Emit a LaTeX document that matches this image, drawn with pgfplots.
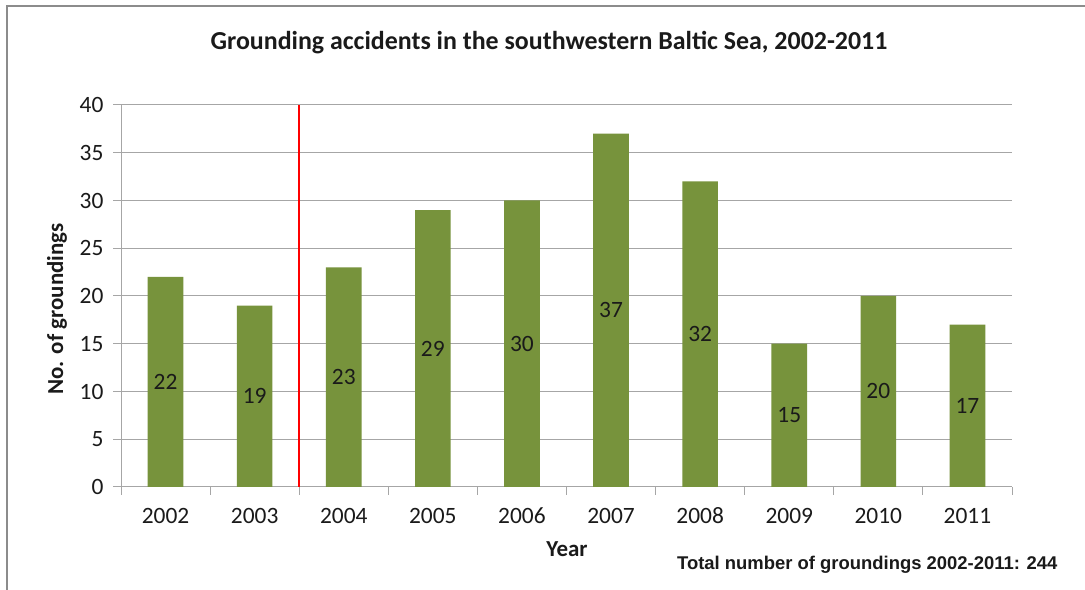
\documentclass[border=0pt]{standalone}
\usepackage{fontspec}
\setmainfont{Carlito}
\newfontfamily\arialfont{Liberation Sans}
\usepackage{pgfplots}
\pgfplotsset{compat=1.18}
\definecolor{bargreen}{HTML}{77933C}
\definecolor{gridgray}{HTML}{A6A6A6}
\definecolor{framegray}{HTML}{8C8C8C}
\definecolor{txt}{HTML}{1A1A1A}
\begin{document}
\begin{tikzpicture}[x=1bp,y=1bp]
\path[use as bounding box, fill=white] (0,0) rectangle (1085,590);
\draw[framegray, line width=2.5bp] (7,0) -- (7,584) -- (1085,584);
\begin{axis}[
  at={(121bp,103bp)}, anchor=south west,
  scale only axis, width=891bp, height=382bp,
  xmin=-0.5, xmax=9.5, ymin=0, ymax=40,
  ytick={0,5,...,40},
  xtick={0,...,9},
  xticklabels={2002,2003,2004,2005,2006,2007,2008,2009,2010,2011},
  minor xtick={-0.5,0.5,...,9.5},
  ymajorgrids,
  grid style={gridgray, line width=1bp},
  axis x line*=bottom, axis y line*=left,
  axis line style={gridgray, line width=1bp, -},
  tick align=outside,
  major tick length=8bp, minor tick length=8bp,
  major x tick style={draw=none},
  minor x tick style={gridgray, line width=1bp},
  major y tick style={gridgray, line width=1bp},
  /pgf/number format/assume math mode=true,
  tick label style={font=\fontsize{23.5}{27}\selectfont, text=txt},
  yticklabel style={xshift=-6bp},
  xticklabel style={yshift=-10bp, text height=15bp, text depth=0bp},
  clip=false,
]
\addplot[ybar, bar width=0.4, fill=bargreen, draw=none,
  visualization depends on={y \as \rawy},
  nodes near coords,
  every node near coord/.append style={anchor=center, font=\fontsize{23.5}{27}\selectfont, text=txt,
     text height=15bp, text depth=0bp,
     shift={(axis direction cs:0,-\rawy/2)}},
] coordinates {
(0,22) (1,19) (2,23) (3,29) (4,30) (5,37) (6,32) (7,15) (8,20) (9,17)
};
\addplot[red, line width=1.5bp, mark=none] coordinates {(1.5,0) (1.5,40)};
\end{axis}
\node[font=\bfseries\fontsize{26}{30}\selectfont, text=txt] at (549,547) {Grounding accidents in the southwestern Baltic Sea, 2002-2011};
\node[rotate=90, font=\bfseries\fontsize{23}{27}\selectfont, text=txt] at (57,281) {No. of groundings};
\node[font=\bfseries\fontsize{23}{27}\selectfont, text=txt] at (567,41) {Year};
\node[anchor=base east, font=\arialfont\bfseries\fontsize{18.5}{21}\selectfont, text=txt] at (1061,20) {Total number of groundings 2002-2011: 244};
\end{tikzpicture}
\end{document}
